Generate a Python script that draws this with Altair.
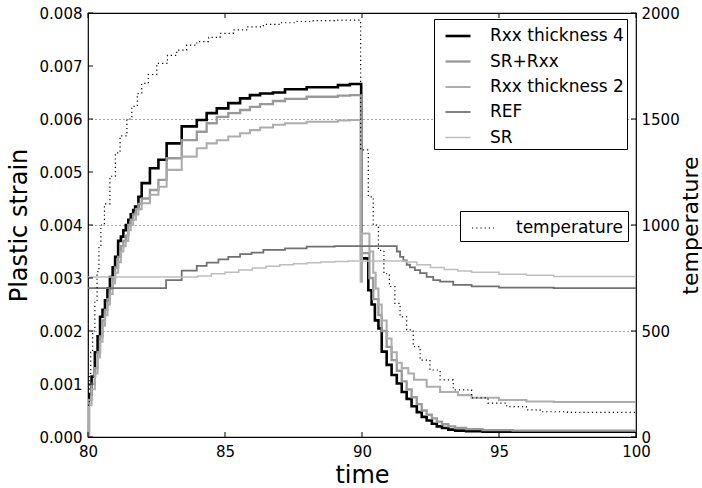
import altair as alt
import pandas as pd

# ---------------- data ----------------
names = ["Rxx thickness 4", "SR+Rxx", "Rxx thickness 2", "REF", "SR"]
colors = ["#000000", "#999999", "#adadad", "#707070", "#bdbdbd"]
widths = [2.6, 1.5, 2.3, 2.3, 1.2]

t_rxx4 = [80.00, 80.03, 80.13, 80.25, 80.35, 80.44, 80.53, 80.62, 80.71, 80.80, 80.90, 80.99,
          81.10, 81.20, 81.29, 81.38, 81.47, 81.56, 81.65, 81.72, 81.84, 81.96, 82.26, 82.57,
          82.87, 83.42, 83.97, 84.33, 84.70, 85.12, 85.55, 85.91, 86.28, 86.75, 87.19, 87.98,
          89.12, 89.56, 89.97, 90.23, 90.35, 90.47, 90.60, 90.72, 90.90, 91.08, 91.27, 91.45,
          91.63, 91.81, 92.00, 92.18, 92.36, 92.55, 92.73, 92.92, 93.15, 93.40, 93.80, 94.40,
          100.0]
s_rxx4 = [0.0, 0.0008, 0.00114, 0.0016, 0.0019, 0.00227, 0.0024, 0.00258, 0.0028, 0.00302, 0.0032, 0.0034,
          0.0037, 0.00378, 0.0039, 0.0040, 0.0041, 0.0042, 0.00428, 0.00435, 0.00453, 0.00479, 0.00507, 0.00523,
          0.00554, 0.00586, 0.00598, 0.00611, 0.0062, 0.0063, 0.00639, 0.00645, 0.00648, 0.0065, 0.00656, 0.0066,
          0.00664, 0.00666, 0.00337, 0.00277, 0.0025, 0.0022, 0.00205, 0.00161, 0.00136, 0.00117, 0.00101, 0.00085,
          0.00072, 0.00058, 0.00047, 0.00038, 0.00031, 0.00025, 0.0002, 0.00017, 0.00014, 0.00012, 0.00011, 0.0001,
          0.0001]

t_srrxx = [80.00, 80.03, 80.13, 80.25, 80.35, 80.44, 80.53, 80.62, 80.71, 80.80, 80.90, 80.99,
           81.10, 81.20, 81.29, 81.38, 81.47, 81.56, 81.65, 81.75, 81.84, 81.96, 82.26, 82.57,
           82.87, 83.42, 83.97, 84.33, 84.70, 85.12, 85.55, 85.91, 86.28, 86.75, 87.19, 87.98,
           89.12, 89.56, 89.97, 90.27, 90.41, 90.60, 90.72, 90.90, 91.08, 91.27, 91.45, 91.63,
           91.81, 92.00, 92.18, 92.36, 92.55, 92.73, 92.92, 93.15, 93.40, 93.80, 94.40, 95.50,
           100.0]
s_srrxx = [0.0, 0.0007, 0.001, 0.0013, 0.0016, 0.0019, 0.0022, 0.0024, 0.0026, 0.0028, 0.003, 0.0032,
           0.0034, 0.0036, 0.0037, 0.0038, 0.004, 0.0041, 0.0042, 0.0043, 0.0044, 0.0045, 0.00466, 0.00485,
           0.00526, 0.0056, 0.00576, 0.00592, 0.00604, 0.00611, 0.00617, 0.00623, 0.00628, 0.00634, 0.00638, 0.00642,
           0.00644, 0.00645, 0.00347, 0.0030, 0.0026, 0.0023, 0.0020, 0.0017, 0.00145, 0.00125, 0.00105, 0.0009,
           0.00075, 0.00062, 0.0005, 0.00042, 0.00035, 0.00029, 0.00024, 0.0002, 0.00017, 0.00015, 0.00013, 0.00012,
           0.00012]

t_rxx2 = [80.00, 80.03, 80.13, 80.25, 80.35, 80.44, 80.53, 80.62, 80.71, 80.80, 80.90, 80.99,
          81.10, 81.20, 81.29, 81.38, 81.47, 81.56, 81.65, 81.75, 81.84, 81.96, 82.26, 82.57,
          82.87, 83.42, 83.97, 84.33, 84.70, 85.12, 85.55, 85.91, 86.28, 86.75, 87.19, 87.98,
          89.12, 89.56, 89.95, 90.00, 90.27, 90.41, 90.50, 90.60, 90.72, 90.90, 91.08, 91.27,
          91.45, 91.69, 91.90, 92.36, 92.85, 93.50, 94.00, 95.00, 96.00, 97.00, 100.0]
s_rxx2 = [0.0, 0.0006, 0.0009, 0.0012, 0.0015, 0.0018, 0.0021, 0.0023, 0.0025, 0.0027, 0.0029, 0.0031,
          0.0033, 0.0035, 0.0036, 0.0037, 0.0039, 0.004, 0.0041, 0.0042, 0.0043, 0.00441, 0.00457, 0.00472,
          0.00504, 0.00529, 0.00545, 0.00554, 0.0056, 0.00567, 0.00573, 0.00579, 0.00584, 0.00589, 0.00592, 0.00595,
          0.00597, 0.00598, 0.00293, 0.00384, 0.0035, 0.0031, 0.0028, 0.0025, 0.0022, 0.00186, 0.0016, 0.0014,
          0.0013, 0.0012, 0.00108, 0.00095, 0.00085, 0.00079, 0.00074, 0.0007, 0.00067, 0.00066, 0.00066]

t_ref = [80.00, 82.85, 83.42, 83.97, 84.33, 84.76, 85.12, 85.55, 85.97, 86.40, 87.19, 87.98,
         89.00, 91.27, 91.39, 91.51, 91.63, 91.75, 91.93, 92.12, 92.36, 92.60, 92.85, 93.33,
         94.00, 95.00, 97.00, 100.0]
s_ref = [0.00281, 0.00296, 0.00314, 0.00323, 0.00329, 0.00335, 0.0034, 0.00345, 0.00348, 0.00353, 0.00356, 0.00359,
         0.0036, 0.0035, 0.0034, 0.00333, 0.00325, 0.0032, 0.00315, 0.00309, 0.00302, 0.00296, 0.00293, 0.00287,
         0.00284, 0.00282, 0.00281, 0.00281]

t_sr = [80.0, 83.5, 84.0, 84.5, 85.0, 85.5, 86.0, 86.5, 87.0, 87.5, 88.0, 88.5, 89.0, 89.5,
        91.6, 92.0, 92.5, 93.0, 93.5, 94.0, 95.0, 96.0, 97.0, 100.0]
s_sr = [0.00302, 0.00302, 0.00304, 0.00308, 0.00311, 0.00315, 0.00319, 0.00322, 0.00325, 0.00327, 0.00329, 0.0033,
        0.00331, 0.00332, 0.0033, 0.00325, 0.0032, 0.00316, 0.00313, 0.00311, 0.00307, 0.00305, 0.00303, 0.00302]

t_temp = [80.0, 80.05, 80.1, 80.17, 80.25, 80.33, 80.4, 80.47, 80.6, 80.8, 81.0, 81.17, 81.42, 81.6,
          81.8, 81.96, 82.2, 82.51, 82.9, 83.24, 83.6, 83.97, 84.4, 84.82, 85.3, 85.79, 86.4, 87.01,
          87.6, 88.22, 89.0, 89.95, 90.23, 90.41, 90.6, 90.8, 91.0, 91.2, 91.39, 91.63, 91.87, 92.12,
          92.48, 92.85, 93.33, 94.0, 94.6, 95.28, 96.0, 96.5, 97.5, 100.0]
temp = [150, 300, 400, 500, 640, 780, 900, 1000, 1100, 1230, 1340, 1420, 1500, 1560,
        1620, 1668, 1710, 1762, 1800, 1825, 1848, 1865, 1885, 1904, 1920, 1935, 1946, 1954,
        1960, 1964, 1966, 1354, 1133, 1000, 880, 770, 710, 630, 567, 505, 426, 363,
        316, 269, 222, 185, 160, 143, 128, 119, 116, 115]

x_ticks = [80, 85, 90, 95, 100]
y_ticks = [0.000, 0.001, 0.002, 0.003, 0.004, 0.005, 0.006, 0.007, 0.008]
t_ticks = [0, 500, 1000, 1500, 2000]

# ---------------- tables ----------------
rows = []
for name, ts, ss in zip(names, [t_rxx4, t_srrxx, t_rxx2, t_ref, t_sr],
                        [s_rxx4, s_srrxx, s_rxx2, s_ref, s_sr]):
    for i, (t, s) in enumerate(zip(ts, ss)):
        rows.append({"series": name, "time": t, "strain": s, "idx": i})
df = pd.DataFrame(rows)
df_temp = pd.DataFrame({"time": t_temp, "temperature": temp, "name": "temperature"})

W, H = 548, 424
FONT = "DejaVu Sans"
xs = alt.Scale(domain=[80, 100], nice=False, zero=False)
ys = alt.Scale(domain=[0, 0.008], nice=False)
ts_ = alt.Scale(domain=[0, 2000], nice=False)

xaxis = alt.Axis(values=x_ticks, format="d", ticks=False, grid=False, domain=False,
                 title="time", labelFontSize=15, titleFontSize=24, labelPadding=7,
                 labelFlush=False, labelOverlap=False,
                 titlePadding=4, labelFont=FONT, titleFont=FONT, titleFontWeight="normal",
                 labelColor="black", titleColor="black")

leg1 = alt.Legend(title=None, orient="none", legendX=346, legendY=6, symbolType="stroke",
                  symbolSize=625, labelFontSize=17, labelFont=FONT, labelColor="black",
                  strokeColor="black", fillColor="white", padding=3, rowPadding=3.5,
                  symbolOffset=7, labelOffset=18, cornerRadius=0)

strain = alt.Chart(df).mark_line(interpolate="step-after", clip=True).encode(
    x=alt.X("time:Q", scale=xs, axis=xaxis),
    y=alt.Y("strain:Q", scale=ys,
            axis=alt.Axis(values=y_ticks, format=".3f", ticks=False, grid=False, domain=False,
                          labelFlush=False, labelOverlap=False,
                          title="Plastic strain", labelFontSize=15, titleFontSize=24,
                          labelPadding=6, titlePadding=8, labelFont=FONT, titleFont=FONT,
                          titleFontWeight="normal", labelColor="black", titleColor="black")),
    color=alt.Color("series:N", scale=alt.Scale(domain=names, range=colors), legend=leg1),
    strokeWidth=alt.StrokeWidth("series:N", scale=alt.Scale(domain=names, range=widths), legend=leg1),
    order=alt.Order("idx:Q"),
)

temperature = alt.Chart(df_temp).mark_line(interpolate="step-after", color="black",
                                           strokeWidth=1.2, clip=True).encode(
    x=alt.X("time:Q", scale=xs, axis=xaxis),
    y=alt.Y("temperature:Q", scale=ts_,
            axis=alt.Axis(orient="right", values=t_ticks, format="d", ticks=False, domain=False,
                          labelFlush=False, labelOverlap=False,
                          grid=True, gridDash=[1, 3], gridColor="black", gridWidth=0.7,
                          title="temperature", titleAngle=270, titleBaseline="top",
                          labelFontSize=15, titleFontSize=22,
                          labelPadding=5, titlePadding=1, labelFont=FONT, titleFont=FONT,
                          titleFontWeight="normal", labelColor="black", titleColor="black")),
    strokeDash=alt.StrokeDash("name:N", scale=alt.Scale(domain=["temperature"], range=[[1.2, 3]]),
                              legend=alt.Legend(title=None, orient="none", legendX=372, legendY=198,
                                                symbolType="stroke", symbolSize=484,
                                                symbolStrokeColor="black", symbolStrokeWidth=1.2,
                                                labelFontSize=17, labelFont=FONT, labelColor="black",
                                                strokeColor="black", fillColor="white", padding=5,
                                                symbolOffset=6, labelOffset=21, cornerRadius=0)),
)

# inward ticks
df_yt = pd.DataFrame({"v": y_ticks})
df_tt = pd.DataFrame({"v": t_ticks})
df_xt = pd.DataFrame({"v": x_ticks})
TL = 5
lt = alt.Chart(df_yt).mark_rule(color="black", strokeWidth=1).encode(
    y=alt.Y("v:Q", scale=ys, axis=None), x=alt.value(0), x2=alt.value(TL))
rt = alt.Chart(df_tt).mark_rule(color="black", strokeWidth=1).encode(
    y=alt.Y("v:Q", scale=ts_, axis=None), x=alt.value(W - TL), x2=alt.value(W))
bt = alt.Chart(df_xt).mark_rule(color="black", strokeWidth=1).encode(
    x=alt.X("v:Q", scale=xs, axis=xaxis), y=alt.value(H - TL), y2=alt.value(H))
tt = alt.Chart(df_xt).mark_rule(color="black", strokeWidth=1).encode(
    x=alt.X("v:Q", scale=xs, axis=xaxis), y=alt.value(0), y2=alt.value(TL))

chart = alt.layer(strain, temperature, lt, rt, bt, tt).resolve_scale(
    y="independent", strokeDash="independent", color="independent", strokeWidth="independent"
).properties(
    width=W, height=H, autosize="none",
    padding={"left": 88, "top": 13, "right": 66, "bottom": 51},
    background="white",
).configure_view(stroke="black", strokeWidth=1.2)

chart.save("out.html", embed_options={"renderer": "svg", "actions": False})
